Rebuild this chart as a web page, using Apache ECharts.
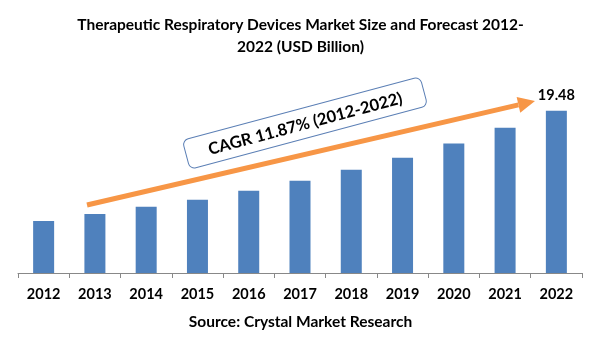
<!DOCTYPE html>
<html><head><meta charset="utf-8">
<script src="https://cdn.jsdelivr.net/npm/echarts@6/dist/echarts.min.js"></script>
<style>html,body{margin:0;padding:0;background:#fff}#c{width:601px;height:361px}</style>
</head><body><div id="c"></div>
<script>
const years = ['2012','2013','2014','2015','2016','2017','2018','2019','2020','2021','2022'];
const marketSize = [6.25, 7.09, 7.94, 8.78, 9.86, 11.06, 12.38, 13.83, 15.55, 17.43, 19.48];
const titleText = 'Therapeutic Respiratory Devices Market Size and Forecast 2012-\n2022 (USD Billion)';
const sourceText = 'Source: Crystal Market Research';
const cagrText = 'CAGR 11.87% (2012-2022)';

const FONT = 'Lato';
const chart = echarts.init(document.getElementById('c'));

const data = marketSize.map((v, i) => ({
  value: v,
  label: { show: i === marketSize.length - 1 }
}));

// arrow geometry (annotation)
const ax0 = 87, ay0 = 205, ax1 = 535, ay1 = 101;
const ang = Math.atan2(ay1 - ay0, ax1 - ax0);
const headLen = 17, headHalf = 8;
const bx = ax1 - headLen * Math.cos(ang), by = ay1 - headLen * Math.sin(ang);
const px = -Math.sin(ang), py = Math.cos(ang);

chart.setOption({
  animation: false,
  backgroundColor: '#fff',
  title: [{
    text: titleText,
    left: 'center', top: 9,
    textStyle: { fontFamily: FONT, fontWeight: 'bold', fontSize: 15.5, color: '#000', lineHeight: 22 }
  }, {
    text: sourceText,
    left: 'center', top: 309,
    textStyle: { fontFamily: FONT, fontWeight: 'bold', fontSize: 15.5, color: '#000' }
  }],
  grid: { left: 18, right: 19, top: 73, bottom: 88 },
  xAxis: {
    type: 'category',
    data: years,
    boundaryGap: true,
    axisLine: { lineStyle: { color: '#888', width: 1 } },
    axisTick: { show: true, length: 5, lineStyle: { color: '#888' } },
    axisLabel: { fontFamily: FONT, fontWeight: 'bold', fontSize: 14.5, color: '#000', margin: 14 }
  },
  yAxis: {
    type: 'value', min: 0, max: 24, show: false,
    splitLine: { show: false }
  },
  series: [{
    type: 'bar',
    data: data,
    barWidth: 21,
    itemStyle: { color: '#4F81BD' },
    label: {
      position: 'top', distance: 8,
      fontFamily: FONT, fontWeight: 'bold', fontSize: 14.5, color: '#000'
    }
  }],
  graphic: [
    {
      type: 'line',
      shape: { x1: ax0, y1: ay0, x2: bx, y2: by },
      style: { stroke: '#F79646', lineWidth: 5 }
    },
    {
      type: 'polygon',
      shape: { points: [[ax1, ay1], [bx + px * headHalf, by + py * headHalf], [bx - px * headHalf, by - py * headHalf]] },
      style: { fill: '#F79646' }
    },
    {
      type: 'group',
      x: 305, y: 123,
      rotation: 15 * Math.PI / 180,
      children: [
        {
          type: 'rect',
          shape: { x: -123, y: -15, width: 246, height: 30, r: 6 },
          style: { fill: '#fff', stroke: '#5B7FB5', lineWidth: 1 }
        },
        {
          type: 'text',
          x: 0, y: 1,
          style: {
            text: cagrText, fontFamily: FONT, fontWeight: 'bold', fontSize: 16.5, fill: '#000',
            align: 'center', verticalAlign: 'middle'
          }
        }
      ]
    }
  ]
});
</script></body></html>
